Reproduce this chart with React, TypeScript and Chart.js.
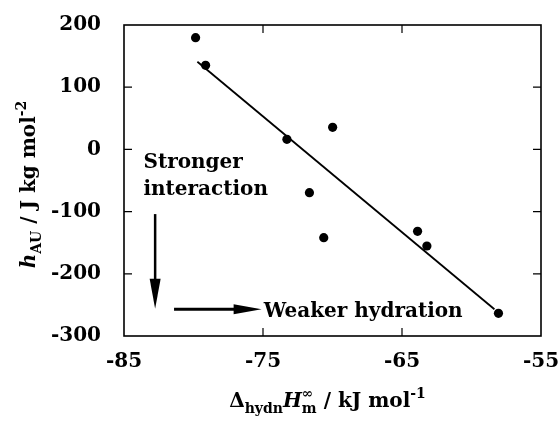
import React, { useEffect, useRef } from "react";
import { Chart, registerables } from "chart.js";

Chart.register(...registerables);

// ---- data ----
const xValues = [-79.85, -79.13, -73.28, -69.99, -71.66, -70.63, -63.88, -63.21, -58.06];
const yValues = [179.6, 135.2, 16.2, 35.5, -69.6, -141.9, -131.7, -155.3, -263.6];
const fitX = [-79.72, -58.35];
const fitY = [141, -257];
const xTickValues = [-85, -75, -65, -55];
const yTickValues = [-300, -200, -100, 0, 100, 200];

// annotation anchors (data units)
const downArrowX = [-82.76, -82.76];
const downArrowY = [-104, -256];
const rightArrowX = [-81.4, -75.1];
const rightArrowY = [-257, -257];
const strongerLines = ["Stronger", "interaction"];
const strongerX = -83.6;
const strongerY = [-30, -73];
const weakerText = "Weaker hydration";
const weakerX = -74.95;
const weakerY = -269;

const FONT = '"DejaVu Serif", serif';

type Seg = { t: string; size: number; italic?: boolean; dy?: number; noAdvance?: boolean };

const xTitle: Seg[] = [
  { t: "\u0394", size: 20 },
  { t: "hydn", size: 14, dy: 6 },
  { t: "H", size: 20, italic: true },
  { t: "\u221E", size: 14, dy: -9, noAdvance: true },
  { t: "m", size: 14, dy: 6 },
  { t: " / kJ mol", size: 20 },
  { t: "-1", size: 14, dy: -9 },
];
const yTitle: Seg[] = [
  { t: "h", size: 20, italic: true },
  { t: "AU", size: 14, dy: 6 },
  { t: " / J kg mol", size: 20 },
  { t: "-2", size: 14, dy: -9 },
];

function fontOf(s: Seg) {
  return `${s.italic ? "italic " : ""}bold ${s.size}px ${FONT}`;
}

function layoutRich(ctx: CanvasRenderingContext2D, segs: Seg[]) {
  const out: { s: Seg; x: number }[] = [];
  let x = 0;
  let pending = 0;
  for (const s of segs) {
    ctx.font = fontOf(s);
    const w = ctx.measureText(s.t).width;
    out.push({ s, x });
    if (s.noAdvance) {
      pending = w;
    } else {
      x += Math.max(w, pending);
      pending = 0;
    }
  }
  return { items: out, width: x };
}

function drawRich(ctx: CanvasRenderingContext2D, segs: Seg[], cx: number, baseline: number) {
  const { items, width } = layoutRich(ctx, segs);
  const x0 = cx - width / 2;
  ctx.textAlign = "left";
  ctx.textBaseline = "alphabetic";
  for (const it of items) {
    ctx.font = fontOf(it.s);
    ctx.fillText(it.s.t, x0 + it.x, baseline + (it.s.dy || 0));
  }
}

const decorPlugin = {
  id: "decor",
  beforeDraw(chart: any) {
    const { ctx, width, height } = chart;
    ctx.save();
    ctx.fillStyle = "#fff";
    ctx.fillRect(0, 0, width, height);
    ctx.restore();
  },
  afterDatasetsDraw(chart: any) {
    const { ctx, chartArea: a, scales } = chart;
    const xs = scales.x;
    const ys = scales.y;
    ctx.save();
    ctx.strokeStyle = "#000";
    ctx.fillStyle = "#000";
    ctx.lineWidth = 1.6;
    ctx.strokeRect(a.left, a.top, a.right - a.left, a.bottom - a.top);

    const TL = 8;
    ctx.lineWidth = 1.2;
    ctx.beginPath();
    for (const v of xTickValues) {
      const px = xs.getPixelForValue(v);
      if (px <= a.left + 1 || px >= a.right - 1) continue;
      ctx.moveTo(px, a.bottom);
      ctx.lineTo(px, a.bottom - TL);
      ctx.moveTo(px, a.top);
      ctx.lineTo(px, a.top + TL);
    }
    for (const v of yTickValues) {
      const py = ys.getPixelForValue(v);
      if (py <= a.top + 1 || py >= a.bottom - 1) continue;
      ctx.moveTo(a.left, py);
      ctx.lineTo(a.left + TL, py);
      ctx.moveTo(a.right, py);
      ctx.lineTo(a.right - TL, py);
    }
    ctx.stroke();

    // down arrow
    const dx = xs.getPixelForValue(downArrowX[0]);
    const dy1 = ys.getPixelForValue(downArrowY[0]);
    const dy2 = ys.getPixelForValue(downArrowY[1]);
    const headL = 30;
    ctx.lineWidth = 2.5;
    ctx.beginPath();
    ctx.moveTo(dx, dy1);
    ctx.lineTo(dx, dy2 - headL + 2);
    ctx.stroke();
    ctx.beginPath();
    ctx.moveTo(dx - 5.5, dy2 - headL);
    ctx.lineTo(dx + 5.5, dy2 - headL);
    ctx.lineTo(dx, dy2);
    ctx.closePath();
    ctx.fill();

    // right arrow
    const rx1 = xs.getPixelForValue(rightArrowX[0]);
    const rx2 = xs.getPixelForValue(rightArrowX[1]);
    const ry = ys.getPixelForValue(rightArrowY[0]);
    const headR = 28;
    ctx.lineWidth = 3.2;
    ctx.beginPath();
    ctx.moveTo(rx1, ry);
    ctx.lineTo(rx2 - headR + 2, ry);
    ctx.stroke();
    ctx.beginPath();
    ctx.moveTo(rx2 - headR, ry - 5);
    ctx.lineTo(rx2 - headR, ry + 5);
    ctx.lineTo(rx2, ry);
    ctx.closePath();
    ctx.fill();

    // annotation texts
    ctx.font = `bold 20px ${FONT}`;
    ctx.textAlign = "left";
    ctx.textBaseline = "alphabetic";
    strongerLines.forEach((t, i) => {
      ctx.fillText(t, xs.getPixelForValue(strongerX), ys.getPixelForValue(strongerY[i]));
    });
    ctx.fillText(weakerText, xs.getPixelForValue(weakerX), ys.getPixelForValue(weakerY));

    // axis titles
    drawRich(ctx, xTitle, (a.left + a.right) / 2 - 5, a.bottom + 71);
    ctx.save();
    ctx.translate(35, (a.top + a.bottom) / 2 + 4);
    ctx.rotate(-Math.PI / 2);
    drawRich(ctx, yTitle, 0, 0);
    ctx.restore();

    ctx.restore();
  },
};

export default function App() {
  const ref = useRef<HTMLCanvasElement | null>(null);

  useEffect(() => {
    const canvas = ref.current;
    if (!canvas) return;
    const points = xValues.map((x, i) => ({ x, y: yValues[i] }));
    const fit = fitX.map((x, i) => ({ x, y: fitY[i] }));
    const tickFont = { family: FONT, size: 20, weight: "bold" as const };

    const chart = new Chart(canvas, {
      type: "scatter",
      data: {
        datasets: [
          {
            data: fit,
            showLine: true,
            borderColor: "#000",
            borderWidth: 1.8,
            pointRadius: 0,
            backgroundColor: "#000",
          },
          {
            data: points,
            pointRadius: 4.6,
            pointBackgroundColor: "#000",
            pointBorderColor: "#000",
            pointBorderWidth: 0,
          },
        ],
      },
      options: {
        animation: false,
        responsive: false,
        devicePixelRatio: 1,
        events: [],
        layout: { padding: { top: 25, right: 19, left: 0, bottom: 0 } },
        plugins: { legend: { display: false }, tooltip: { enabled: false } },
        scales: {
          x: {
            type: "linear",
            min: -85,
            max: -55,
            grid: { display: false, drawTicks: false },
            border: { display: false },
            afterBuildTicks: (s: any) => {
              s.ticks = xTickValues.map((v) => ({ value: v }));
            },
            afterFit: (s: any) => {
              s.height = 85;
              s.paddingLeft = 0;
              s.paddingRight = 0;
            },
            ticks: { font: tickFont, color: "#000", padding: 14, maxRotation: 0, autoSkip: false },
          },
          y: {
            type: "linear",
            min: -300,
            max: 200,
            grid: { display: false, drawTicks: false },
            border: { display: false },
            afterBuildTicks: (s: any) => {
              s.ticks = yTickValues.map((v) => ({ value: v }));
            },
            afterFit: (s: any) => {
              s.width = 124;
              s.paddingTop = 0;
              s.paddingBottom = 0;
            },
            ticks: { font: tickFont, color: "#000", padding: 23, autoSkip: false },
          },
        },
      },
      plugins: [decorPlugin],
    });
    return () => chart.destroy();
  }, []);

  return (
    <div style={{ position: "fixed", left: 0, top: 0, width: 560, height: 421, background: "#fff" }}>
      <canvas ref={ref} width={560} height={421} style={{ display: "block" }} />
    </div>
  );
}
